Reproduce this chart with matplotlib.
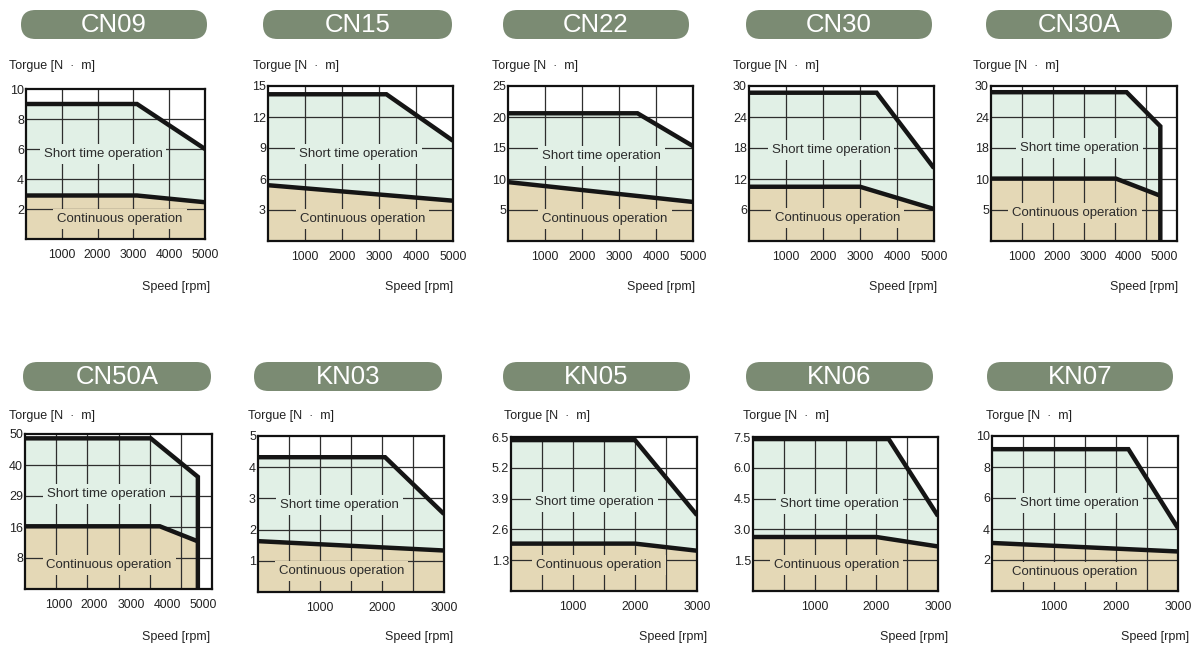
import numpy as np
import matplotlib
matplotlib.use('Agg')
import matplotlib.pyplot as plt
from matplotlib.patches import FancyBboxPatch

plt.rcParams['font.family'] = ['Liberation Sans Narrow', 'Liberation Sans', 'DejaVu Sans']

W, H = 1197, 646

# ---- data: speed [rpm] vs torque [N*m] ----
names = ['CN09', 'CN15', 'CN22', 'CN30', 'CN30A',
         'CN50A', 'KN03', 'KN05', 'KN06', 'KN07']

y_tick_labels = [['2', '4', '6', '8', '10'],
                 ['3', '6', '9', '12', '15'],
                 ['5', '10', '15', '20', '25'],
                 ['6', '12', '18', '24', '30'],
                 ['5', '10', '18', '24', '30'],
                 ['8', '16', '29', '40', '50'],
                 ['1', '2', '3', '4', '5'],
                 ['1.3', '2.6', '3.9', '5.2', '6.5'],
                 ['1.5', '3.0', '4.5', '6.0', '7.5'],
                 ['2', '4', '6', '8', '10']]

x_ticks_cn = [1000, 2000, 3000, 4000, 5000]
x_ticks_kn = [1000, 2000, 3000]

# short time operation limit
short_x = [[0, 3100, 5000], [0, 3200, 5000], [0, 3500, 5000], [0, 3450, 5000],
           [0, 3950, 4900], [0, 3550, 4850], [0, 2050, 3000], [0, 2000, 3000],
           [0, 2200, 3000], [0, 2200, 3000]]
short_y = [[9.0, 9.0, 6.0], [14.2, 14.2, 9.7], [20.6, 20.6, 15.3], [28.7, 28.7, 14.1],
           [28.8, 28.8, 22.2], [48.6, 48.6, 35.8], [4.32, 4.32, 2.5], [6.37, 6.37, 3.2],
           [7.4, 7.4, 3.65], [9.15, 9.15, 4.05]]

# continuous operation limit
cont_x = [[0, 3100, 5000], [0, 5000], [0, 5000], [0, 3000, 5000],
          [0, 3650, 4900], [0, 3800, 4850], [0, 3000], [0, 2000, 3000],
          [0, 2000, 3000], [0, 3000]]
cont_y = [[2.9, 2.9, 2.45], [5.4, 3.9], [9.5, 6.3], [10.5, 10.5, 6.2],
          [10.1, 10.1, 7.3], [16.3, 16.3, 12.3], [1.63, 1.33], [2.0, 2.0, 1.7],
          [2.63, 2.63, 2.17], [3.1, 2.55]]

# ---- layout (pixels) ----
ax_box = [(26, 89, 205, 239), (268, 86, 453, 241), (508, 86, 693, 241),
          (749, 86, 934, 241), (991, 86, 1177, 241),
          (25, 434, 212, 589), (258, 436, 444, 592), (511, 437, 697, 591),
          (753, 437, 938, 591), (992, 436, 1178, 591)]
pill_box = [(21, 10, 207, 39), (263, 10, 452, 39), (503, 10, 689, 39),
            (746, 10, 932, 39), (986, 10, 1172, 39),
            (23, 362, 211, 391), (254, 362, 442, 391), (503, 362, 690, 391),
            (746, 362, 933, 391), (987, 362, 1173, 391)]
torque_xy = [(9, 66), (253, 66), (492, 66), (733, 66), (973, 66),
             (9, 416), (248, 416), (504, 416), (743, 416), (986, 416)]
speed_xy = [(210, 287), (453, 287), (695, 287), (937, 287), (1178, 287),
            (210, 637), (453, 637), (707, 637), (948, 637), (1189, 637)]
short_txt = [(0.43, 0.567), (0.49, 0.56), (0.506, 0.55), (0.443, 0.587), (0.475, 0.598),
             (0.437, 0.613), (0.44, 0.558), (0.45, 0.576), (0.466, 0.565), (0.469, 0.565)]
cont_txt = [(0.525, 0.133), (0.51, 0.14), (0.524, 0.14), (0.48, 0.146), (0.452, 0.183),
            (0.45, 0.155), (0.449, 0.137), (0.473, 0.169), (0.452, 0.169), (0.446, 0.12)]
x_range = [(0, 5000), (0, 5000), (0, 5000), (0, 5000), (130, 5370),
           (80, 5240), (0, 3000), (0, 3000), (0, 3000), (0, 3000)]
x_div = [5, 5, 5, 5, 6, 6, 6, 6, 6, 6]

c_short = '#e1f0e6'
c_cont = '#e4d8b6'
c_pill = '#7b8b73'
c_grid = '#2e2e2e'
c_line = '#151515'
c_text = '#2b2b2b'

fig = plt.figure(figsize=(W / 100, H / 100), dpi=100)
fig.patch.set_facecolor('white')

over = fig.add_axes([0, 0, 1, 1])
over.set_xlim(0, W)
over.set_ylim(H, 0)
over.axis('off')

for i, name in enumerate(names):
    l, t, r, b = ax_box[i]
    ax = fig.add_axes([l / W, 1 - b / H, (r - l) / W, (b - t) / H])
    ax.set_facecolor('white')

    labels = y_tick_labels[i]
    levels = [0.0] + [float(s) for s in labels]
    pos = np.arange(len(levels))

    def ymap(v):
        return np.interp(v, levels, pos)

    x0, x1 = x_range[i]
    ax.set_xlim(x0, x1)
    ax.set_ylim(0, 5)

    sx = np.array(short_x[i], float)
    sy = ymap(np.array(short_y[i], float))
    cx = np.array(cont_x[i], float)
    cy = ymap(np.array(cont_y[i], float))

    xs = np.union1d(sx, cx)
    s_f = np.interp(xs, sx, sy)
    c_f = np.interp(xs, cx, cy)
    ax.fill_between(xs, 0, c_f, color=c_cont, lw=0, zorder=1)
    ax.fill_between(xs, c_f, s_f, color=c_short, lw=0, zorder=1)

    # grid
    for gx in np.linspace(x0, x1, x_div[i] + 1)[1:-1]:
        ax.axvline(gx, color=c_grid, lw=0.9, zorder=2)
    for gy in range(1, 5):
        ax.axhline(gy, color=c_grid, lw=0.9, zorder=2)

    # limit curves
    if sx[-1] < x1:
        sx = np.append(sx, sx[-1])
        sy = np.append(sy, 0)
    ax.plot(sx, sy, color=c_line, lw=3.2, solid_joinstyle='miter',
            solid_capstyle='butt', zorder=5)
    ax.plot(cx, cy, color=c_line, lw=3.2, solid_joinstyle='miter',
            solid_capstyle='butt', zorder=5)

    # region labels
    tx, ty = short_txt[i]
    ax.text(tx, ty, 'Short time operation', transform=ax.transAxes, ha='center',
            va='center', fontsize=9.5, color=c_text, zorder=4,
            bbox=dict(boxstyle='square,pad=0.3', fc=c_short, ec='none'))
    tx, ty = cont_txt[i]
    ax.text(tx, ty, 'Continuous operation', transform=ax.transAxes, ha='center',
            va='center', fontsize=9.5, color=c_text, zorder=4,
            bbox=dict(boxstyle='square,pad=0.3', fc=c_cont, ec='none'))

    # ticks
    xt = x_ticks_cn if name.startswith('CN') else x_ticks_kn
    ax.set_xticks(xt)
    ax.set_xticklabels([str(v) for v in xt])
    ax.set_yticks(pos[1:])
    ax.set_yticklabels(labels)
    ax.tick_params(axis='x', length=0, pad=7, labelsize=8.8, labelcolor='#222222')
    ax.tick_params(axis='y', length=0, pad=1.5, labelsize=9, labelcolor='#222222')
    for sp in ax.spines.values():
        sp.set_linewidth(1.6)
        sp.set_color('#111111')
        sp.set_zorder(6)

    # title pill
    pl, pt, pr, pb = pill_box[i]
    hh = pb - pt
    over.add_patch(FancyBboxPatch((pl, pt), pr - pl, hh,
                                  boxstyle='round,pad=0,rounding_size=%g' % (hh / 2),
                                  fc=c_pill, ec='none'))
    over.text((pl + pr) / 2, (pt + pb) / 2 + 1, name, ha='center', va='center',
              fontsize=18.5, color='white')

    over.text(torque_xy[i][0], torque_xy[i][1], 'Torgue [N  \u00b7  m]',
              ha='left', va='center', fontsize=9, color='#222222')
    over.text(speed_xy[i][0], speed_xy[i][1], 'Speed [rpm]',
              ha='right', va='center', fontsize=9, color='#222222')

fig.savefig('out.png', dpi=100, facecolor='white')
